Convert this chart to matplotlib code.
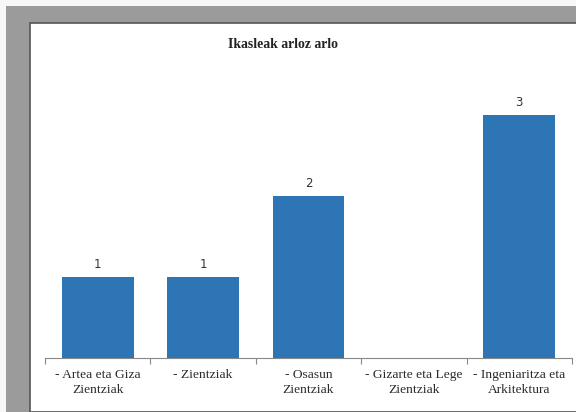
import matplotlib.pyplot as plt
from matplotlib.patches import Rectangle

categories = ["- Artea eta Giza\nZientziak", "- Zientziak", "- Osasun\nZientziak",
              "- Gizarte eta Lege\nZientziak", "- Ingeniaritza eta\nArkitektura"]
values = [1, 1, 2, 0, 3]
labels = ["1", "1", "2", "", "3"]
title = "Ikasleak arloz arlo"

W, H = 576, 412
fig = plt.figure(figsize=(W / 100, H / 100), dpi=100)
fig.patch.set_facecolor("#f7f7f7")

# page frame: gray margin and white page
fig.patches.append(Rectangle((6 / W, 0), 1, 1 - 6 / H, transform=fig.transFigure,
                             facecolor="#9b9b9b", edgecolor="none", zorder=0))
fig.patches.append(Rectangle((30 / W, 0), 1, 1 - 23 / H, transform=fig.transFigure,
                             facecolor="white", edgecolor="#555555", linewidth=1.2, zorder=1))

ax = fig.add_axes([45 / W, 1 - 358 / H, (572 - 45) / W, (358 - 70) / H])
ax.set_zorder(5)
ax.set_facecolor("none")
x = range(len(categories))
bars = ax.bar(x, values, width=0.68, color="#2e75b6", zorder=3)
for b, lab in zip(bars, labels):
    if lab:
        ax.text(b.get_x() + b.get_width() / 2, b.get_height() + 0.08, lab,
                ha="center", va="bottom", fontsize=8.5, family="DejaVu Sans", color="#333333")

ax.set_xlim(-0.5, 4.5)
ax.set_ylim(0, (358 - 70) / 81)
for s in ["top", "right", "left"]:
    ax.spines[s].set_visible(False)
ax.spines["bottom"].set_color("#888888")
ax.set_yticks([])
ax.set_xticks([i - 0.5 for i in range(len(categories) + 1)])
ax.set_xticklabels([])
ax.tick_params(axis="x", length=4, color="#888888", direction="out")
ax.set_xticks(list(x), minor=True)
ax.set_xticklabels(categories, minor=True, fontsize=9.7, family="Liberation Serif",
                   color="#2a2a2a", linespacing=1.3)
ax.tick_params(axis="x", which="minor", length=0, pad=8)

t = fig.text((228 + 337) / 2 / W, 1 - 45 / H, title, ha="center", va="center",
             fontsize=9.9, fontweight="bold", family="Liberation Serif", color="#222222")
t.set_zorder(6)

fig.savefig("out.png", dpi=100, facecolor=fig.get_facecolor())
